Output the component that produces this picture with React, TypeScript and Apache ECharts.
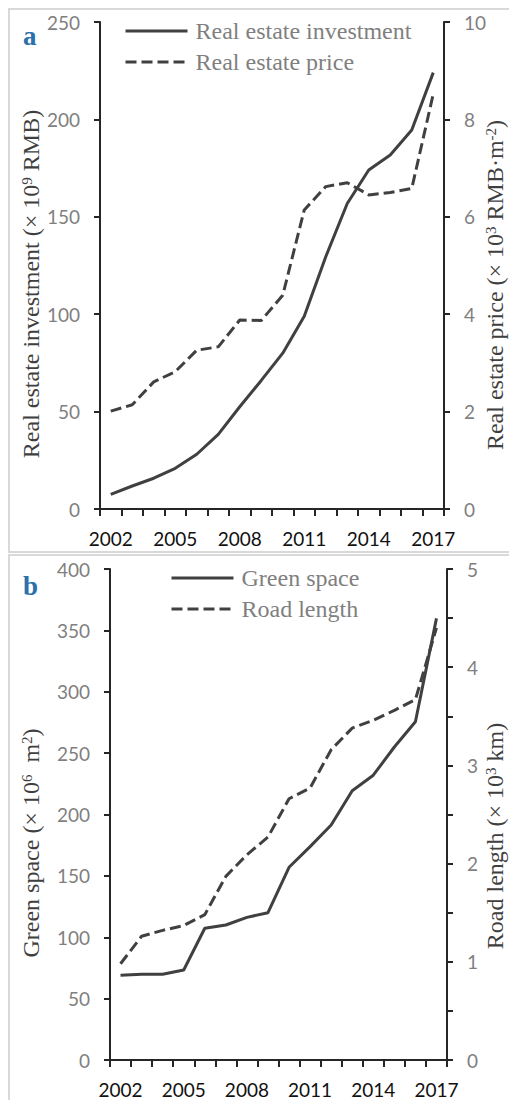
import React, { useEffect, useRef } from 'react';
import * as echarts from 'echarts';

const years = ['2002', '2003', '2004', '2005', '2006', '2007', '2008', '2009', '2010', '2011', '2012', '2013', '2014', '2015', '2016', '2017'];
const investment = [7.5, 11.8, 15.8, 20.9, 28.1, 38.3, 52.5, 66, 80, 99, 129.5, 156.8, 174, 181.7, 194.6, 224];
const price = [2.01, 2.14, 2.61, 2.82, 3.26, 3.33, 3.88, 3.87, 4.39, 6.14, 6.62, 6.7, 6.45, 6.5, 6.58, 8.52];
const greenSpace = [69, 69.8, 69.8, 73.3, 107.3, 110, 116.2, 120, 157, 173.8, 191.4, 219.4, 232, 255, 275.6, 359.8];
const roadLength = [0.98, 1.26, 1.32, 1.37, 1.48, 1.87, 2.09, 2.27, 2.66, 2.77, 3.16, 3.38, 3.46, 3.56, 3.67, 4.4];

const AXIS = '#262626';
const LINE = '#404040';
const TICKLBL = '#7f7f7f';
const SERIF = "'Liberation Serif', 'Times New Roman', serif";
const SANS = "Lato, 'Open Sans', sans-serif";

function xAxisCfg(gridIndex: number) {
  return {
    type: 'category',
    gridIndex,
    data: years,
    boundaryGap: true,
    axisLine: { show: true, lineStyle: { color: AXIS, width: 2 } },
    axisTick: { show: true, interval: 0, length: 7, lineStyle: { color: AXIS, width: 2 } },
    axisLabel: { interval: 2, color: '#111111', fontFamily: SANS, fontSize: 19, margin: 20 },
    splitLine: { show: false },
  };
}

function yAxisCfg(gridIndex: number, position: string, max: number, interval: number, intOnly = false) {
  return {
    type: 'value',
    gridIndex,
    position,
    min: 0,
    max,
    interval,
    axisLine: { show: true, lineStyle: { color: AXIS, width: 2 } },
    axisTick: { show: true, length: 6, lineStyle: { color: AXIS, width: 2 } },
    axisLabel: {
      color: TICKLBL,
      fontFamily: SANS,
      fontSize: 19,
      margin: 20,
      formatter: intOnly ? (v: number) => (Number.isInteger(v) ? String(v) : '') : undefined,
    },
    splitLine: { show: false },
  };
}

function title(text: string, x: number, y: number) {
  return {
    type: 'text',
    x,
    y,
    rotation: Math.PI / 2,
    style: {
      text,
      fill: '#3f3f3f',
      font: `24px ${SERIF}`,
      align: 'center',
      verticalAlign: 'middle',
      rich: {
        n: { fontFamily: SERIF, fontSize: 24, lineHeight: 24, fill: '#3f3f3f' },
        s: { fontFamily: SERIF, fontSize: 15, lineHeight: 10, verticalAlign: 'top', fill: '#3f3f3f' },
      },
    },
  };
}

const legendCommon = {
  orient: 'vertical',
  itemWidth: 62,
  itemHeight: 14,
  itemGap: 7,
  padding: 0,
  lineStyle: { width: 3 },
  itemStyle: { color: 'transparent', borderWidth: 0, opacity: 0 },
  textStyle: { fontFamily: SERIF, fontSize: 24, lineHeight: 24, color: TICKLBL, padding: [0, 0, 0, 3] },
};

export default function App() {
  const ref = useRef<HTMLDivElement>(null);
  useEffect(() => {
    if (!ref.current) return;
    const chart = echarts.init(ref.current, undefined, { renderer: 'svg' });
    const lineSeries = (name: string, data: number[], xi: number, yi: number, dashed: boolean) => ({
      name,
      type: 'line',
      xAxisIndex: xi,
      yAxisIndex: yi,
      data,
      symbol: 'none',
      lineStyle: { color: LINE, width: 3, type: dashed ? [11, 5] : 'solid' },
      itemStyle: { color: LINE },
    });
    chart.setOption({
      animation: false,
      backgroundColor: '#ffffff',
      grid: [
        { left: 100, top: 22, width: 344, height: 487 },
        { left: 110, top: 569, width: 337, height: 491 },
      ],
      legend: [
        { ...legendCommon, left: 124, top: 19, data: ['Real estate investment', 'Real estate price'] },
        { ...legendCommon, left: 170, top: 566, data: ['Green space', 'Road length'] },
      ],
      xAxis: [xAxisCfg(0), xAxisCfg(1)],
      yAxis: [
        yAxisCfg(0, 'left', 250, 50),
        yAxisCfg(0, 'right', 10, 2),
        yAxisCfg(1, 'left', 400, 50),
        yAxisCfg(1, 'right', 5, 0.5, true),
      ],
      series: [
        lineSeries('Real estate investment', investment, 0, 0, false),
        lineSeries('Real estate price', price, 0, 1, true),
        lineSeries('Green space', greenSpace, 1, 2, false),
        lineSeries('Road length', roadLength, 1, 3, true),
      ],
      graphic: [
        { type: 'rect', z: -10, shape: { x: 9, y: 9, width: 600, height: 543 }, style: { fill: 'none', stroke: '#d9d9d9', lineWidth: 2 } },
        { type: 'rect', z: -10, shape: { x: 9, y: 555, width: 600, height: 600 }, style: { fill: 'none', stroke: '#d9d9d9', lineWidth: 2 } },
        { type: 'text', x: 23, y: 36, style: { text: 'a', font: `bold 27px ${SERIF}`, fill: '#2b70aa', verticalAlign: 'middle' } },
        { type: 'text', x: 23, y: 586, style: { text: 'b', font: `bold 27px ${SERIF}`, fill: '#2b70aa', verticalAlign: 'middle' } },
        title('{n|Real estate investment (× 10}{s|9}{n| RMB)}', 31, 284),
        title('{n|Real estate price (× 10}{s|3}{n| RMB·m}{s|-2}{n|)}', 495, 285),
        title('{n|Green space (× 10}{s|6}{n|  m}{s|2}{n|)}', 31, 843),
        title('{n|Road length (× 10}{s|3}{n| km)}', 495, 836),
      ],
    });
    return () => chart.dispose();
  }, []);
  return <div ref={ref} style={{ position: 'absolute', left: 0, top: 0, width: 509, height: 1100 }} />;
}
